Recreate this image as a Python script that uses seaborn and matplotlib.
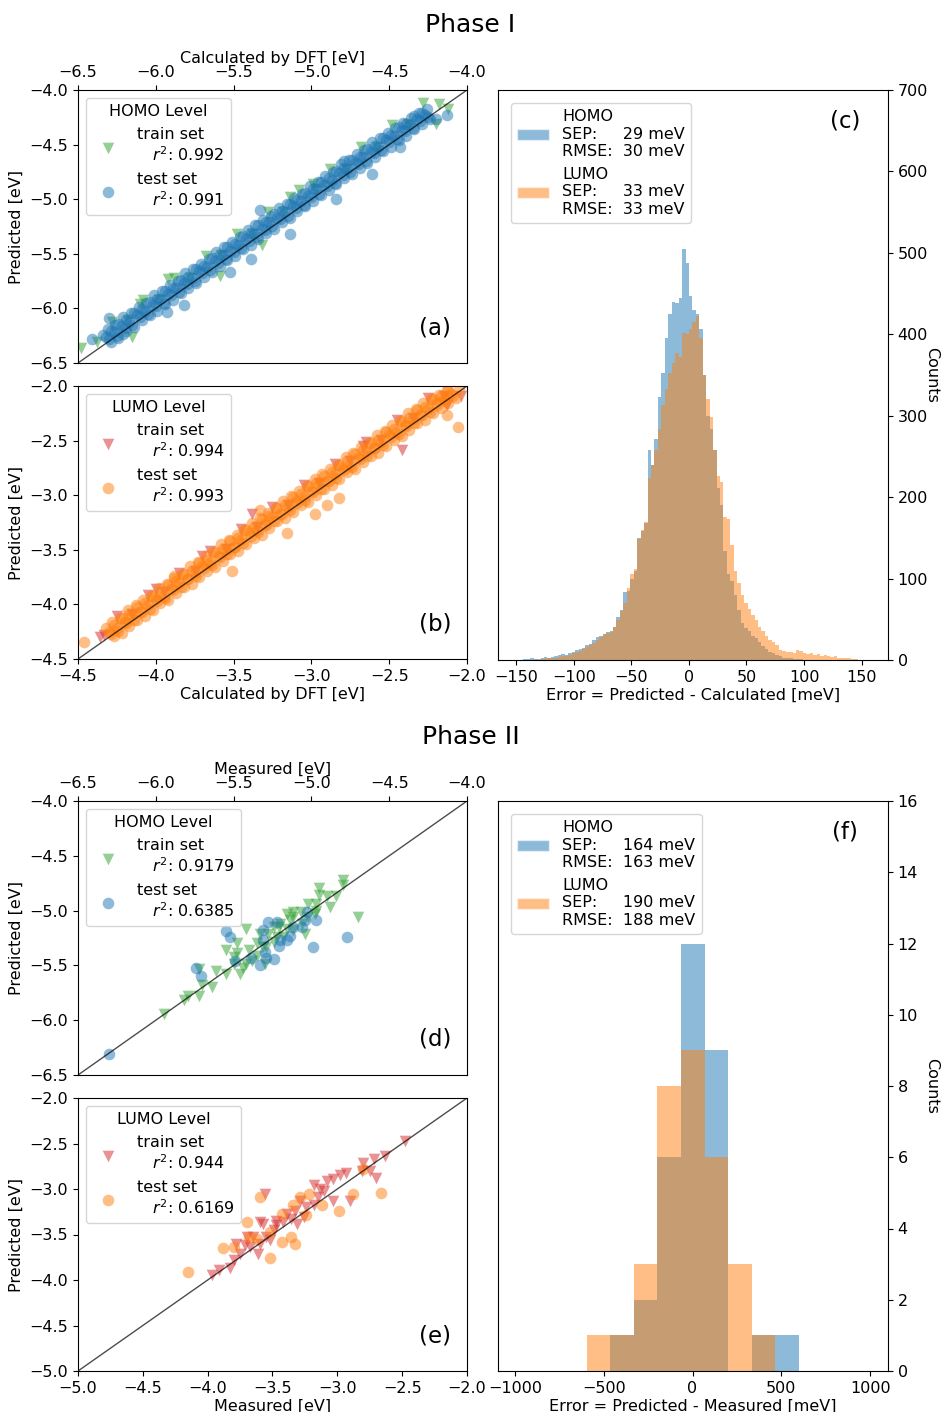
import numpy as np
import pandas as pd
import matplotlib
matplotlib.use("Agg")
import matplotlib.pyplot as plt
import seaborn as sns
from matplotlib.patches import Patch

# ---------------- Phase I: predicted vs DFT (eV) ----------------
homo1_train = [(-6.48, -6.36), (-6.28, -6.12), (-6.08, -5.92), (-5.88, -5.72), (-5.68, -5.52),
               (-5.48, -5.32), (-5.28, -5.12), (-5.08, -4.92), (-4.88, -4.72), (-4.68, -4.52),
               (-4.48, -4.32), (-4.28, -4.12), (-6.38, -6.31), (-6.18, -6.11), (-5.98, -5.92),
               (-5.78, -5.72), (-5.58, -5.51), (-5.38, -5.32), (-5.18, -5.12), (-4.98, -4.91),
               (-4.78, -4.72), (-4.58, -4.52), (-4.38, -4.31), (-4.18, -4.13), (-4.12, -4.17),
               (-5.92, -5.73), (-5.59, -5.70), (-5.14, -4.98), (-4.99, -4.86), (-6.10, -5.96),
               (-4.20, -4.31), (-6.15, -6.26), (-5.32, -5.42)]
homo1_test = [(-6.32, -6.26), (-6.27, -6.22), (-6.22, -6.16), (-6.17, -6.12), (-6.12, -6.06), (-6.07, -6.02),
              (-6.02, -5.97), (-5.97, -5.91), (-5.92, -5.87), (-5.87, -5.81), (-5.82, -5.77), (-5.77, -5.72),
              (-5.72, -5.66), (-5.67, -5.62), (-5.62, -5.57), (-5.57, -5.51), (-5.52, -5.47), (-5.47, -5.42),
              (-5.42, -5.36), (-5.37, -5.32), (-5.32, -5.27), (-5.27, -5.21), (-5.22, -5.17), (-5.17, -5.12),
              (-5.12, -5.06), (-5.07, -5.02), (-5.02, -4.97), (-4.97, -4.91), (-4.92, -4.87), (-4.87, -4.82),
              (-4.82, -4.76), (-4.77, -4.72), (-4.72, -4.67), (-4.67, -4.61), (-4.62, -4.57), (-4.57, -4.52),
              (-4.52, -4.46), (-4.47, -4.42), (-4.42, -4.37), (-4.37, -4.32), (-4.32, -4.27), (-4.27, -4.23),
              (-6.29, -6.31), (-6.24, -6.27), (-6.19, -6.21), (-6.14, -6.17), (-6.09, -6.11), (-6.04, -6.06),
              (-5.99, -6.02), (-5.94, -5.96), (-5.89, -5.92), (-5.84, -5.86), (-5.79, -5.81), (-5.74, -5.77),
              (-5.69, -5.71), (-5.64, -5.67), (-5.59, -5.61), (-5.54, -5.56), (-5.49, -5.52), (-5.44, -5.46),
              (-5.39, -5.42), (-5.34, -5.36), (-5.29, -5.31), (-5.24, -5.27), (-5.19, -5.21), (-5.14, -5.17),
              (-5.09, -5.11), (-5.04, -5.06), (-4.99, -5.02), (-4.94, -4.96), (-4.89, -4.92), (-4.84, -4.86),
              (-4.79, -4.81), (-4.74, -4.77), (-4.69, -4.71), (-4.64, -4.67), (-4.59, -4.61), (-4.54, -4.56),
              (-4.49, -4.52), (-4.44, -4.46), (-4.39, -4.42), (-4.34, -4.36), (-4.29, -4.31), (-4.24, -4.27),
              (-6.31, -6.19), (-6.26, -6.15), (-6.21, -6.08), (-6.16, -6.04), (-6.11, -5.99), (-6.06, -5.95),
              (-6.01, -5.88), (-5.96, -5.84), (-5.91, -5.79), (-5.86, -5.75), (-5.81, -5.68), (-5.76, -5.64),
              (-5.71, -5.59), (-5.66, -5.55), (-5.61, -5.48), (-5.56, -5.44), (-5.51, -5.39), (-5.46, -5.35),
              (-5.41, -5.28), (-5.36, -5.24), (-5.31, -5.19), (-5.26, -5.15), (-5.21, -5.08), (-5.16, -5.04),
              (-5.11, -4.99), (-5.06, -4.95), (-5.01, -4.88), (-4.96, -4.84), (-4.91, -4.79), (-4.86, -4.75),
              (-4.81, -4.68), (-4.76, -4.64), (-4.71, -4.59), (-4.66, -4.55), (-4.61, -4.48), (-4.56, -4.44),
              (-4.51, -4.39), (-4.46, -4.35), (-4.41, -4.30), (-4.36, -4.26), (-4.31, -4.21), (-4.26, -4.17),
              (-6.34, -6.24), (-6.29, -6.21), (-6.24, -6.14), (-6.19, -6.11), (-6.14, -6.04), (-6.09, -6.01),
              (-6.04, -5.94), (-5.99, -5.91), (-5.94, -5.84), (-5.89, -5.81), (-5.84, -5.74), (-5.79, -5.71),
              (-5.74, -5.64), (-5.69, -5.61), (-5.64, -5.54), (-5.59, -5.51), (-5.54, -5.44), (-5.49, -5.41),
              (-5.44, -5.34), (-5.39, -5.31), (-5.34, -5.24), (-5.29, -5.21), (-5.24, -5.14), (-5.19, -5.11),
              (-5.14, -5.04), (-5.09, -5.01), (-5.04, -4.94), (-4.99, -4.91), (-4.94, -4.84), (-4.89, -4.81),
              (-4.84, -4.74), (-4.79, -4.71), (-4.74, -4.64), (-4.69, -4.61), (-4.64, -4.54), (-4.59, -4.51),
              (-4.54, -4.44), (-4.49, -4.41), (-4.44, -4.34), (-4.39, -4.31), (-4.34, -4.24), (-4.29, -4.21),
              (-6.30, -6.28), (-6.25, -6.25), (-6.20, -6.18), (-6.15, -6.15), (-6.10, -6.08), (-6.05, -6.05),
              (-6.00, -5.98), (-5.95, -5.95), (-5.90, -5.88), (-5.85, -5.85), (-5.80, -5.78), (-5.75, -5.75),
              (-5.70, -5.68), (-5.65, -5.65), (-5.60, -5.58), (-5.55, -5.55), (-5.50, -5.48), (-5.45, -5.45),
              (-5.40, -5.38), (-5.35, -5.35), (-5.30, -5.28), (-5.25, -5.25), (-5.20, -5.18), (-5.15, -5.15),
              (-5.10, -5.08), (-5.05, -5.05), (-5.00, -4.98), (-4.95, -4.95), (-4.90, -4.88), (-4.85, -4.85),
              (-4.80, -4.78), (-4.75, -4.75), (-4.70, -4.68), (-4.65, -4.65), (-4.60, -4.58), (-4.55, -4.55),
              (-4.50, -4.48), (-4.45, -4.45), (-4.40, -4.38), (-4.35, -4.35), (-4.30, -4.28), (-4.25, -4.25),
              (-4.13, -4.23), (-4.20, -4.27), (-4.79, -4.65), (-4.61, -4.77), (-4.84, -5.00), (-5.33, -5.10),
              (-5.14, -5.32), (-5.39, -5.55), (-5.52, -5.67), (-5.82, -5.97), (-5.93, -6.03), (-6.30, -6.09),
              (-6.41, -6.28), (-6.21, -6.23), (-4.43, -4.52)]
lumo1_train = [(-4.36, -4.30), (-4.25, -4.11), (-4.15, -4.09), (-4.05, -3.91), (-3.95, -3.89),
               (-3.85, -3.71), (-3.75, -3.69), (-3.65, -3.51), (-3.55, -3.49), (-3.45, -3.31),
               (-3.35, -3.29), (-3.25, -3.11), (-3.15, -3.09), (-3.05, -2.91), (-2.95, -2.89),
               (-2.85, -2.71), (-2.75, -2.69), (-2.65, -2.51), (-2.55, -2.49), (-2.45, -2.31),
               (-2.35, -2.29), (-2.25, -2.11), (-2.15, -2.09), (-2.04, -2.09), (-3.38, -3.17),
               (-4.00, -3.86), (-3.70, -3.56), (-2.67, -2.55), (-2.42, -2.59), (-2.13, -2.17),
               (-4.33, -4.28)]
lumo1_test = [(-4.30, -4.25), (-4.25, -4.22), (-4.20, -4.16), (-4.15, -4.10), (-4.10, -4.07), (-4.05, -4.01),
              (-4.00, -3.95), (-3.95, -3.92), (-3.90, -3.86), (-3.85, -3.80), (-3.80, -3.77), (-3.75, -3.71),
              (-3.70, -3.65), (-3.65, -3.62), (-3.60, -3.56), (-3.55, -3.50), (-3.50, -3.47), (-3.45, -3.41),
              (-3.40, -3.35), (-3.35, -3.32), (-3.30, -3.26), (-3.25, -3.20), (-3.20, -3.17), (-3.15, -3.11),
              (-3.10, -3.05), (-3.05, -3.02), (-3.00, -2.96), (-2.95, -2.90), (-2.90, -2.87), (-2.85, -2.81),
              (-2.80, -2.75), (-2.75, -2.72), (-2.70, -2.66), (-2.65, -2.60), (-2.60, -2.57), (-2.55, -2.51),
              (-2.50, -2.45), (-2.45, -2.42), (-2.40, -2.36), (-2.35, -2.30), (-2.30, -2.27), (-2.25, -2.21),
              (-2.20, -2.16), (-2.15, -2.12), (-2.10, -2.07), (-2.05, -2.04),
              (-4.27, -4.29), (-4.22, -4.26), (-4.17, -4.20), (-4.12, -4.14), (-4.07, -4.11), (-4.02, -4.05),
              (-3.97, -3.99), (-3.92, -3.96), (-3.87, -3.90), (-3.82, -3.84), (-3.77, -3.81), (-3.72, -3.75),
              (-3.67, -3.69), (-3.62, -3.66), (-3.57, -3.60), (-3.52, -3.54), (-3.47, -3.51), (-3.42, -3.45),
              (-3.37, -3.39), (-3.32, -3.36), (-3.27, -3.30), (-3.22, -3.24), (-3.17, -3.21), (-3.12, -3.15),
              (-3.07, -3.09), (-3.02, -3.06), (-2.97, -3.00), (-2.92, -2.94), (-2.87, -2.91), (-2.82, -2.85),
              (-2.77, -2.79), (-2.72, -2.76), (-2.67, -2.70), (-2.62, -2.64), (-2.57, -2.61), (-2.52, -2.55),
              (-2.47, -2.49), (-2.42, -2.46), (-2.37, -2.40), (-2.32, -2.34), (-2.27, -2.31), (-2.22, -2.25),
              (-2.17, -2.20), (-2.12, -2.16), (-2.07, -2.11),
              (-4.28, -4.16), (-4.23, -4.12), (-4.18, -4.05), (-4.13, -4.01), (-4.08, -3.96), (-4.03, -3.92),
              (-3.98, -3.85), (-3.93, -3.81), (-3.88, -3.76), (-3.83, -3.72), (-3.78, -3.65), (-3.73, -3.61),
              (-3.68, -3.56), (-3.63, -3.52), (-3.58, -3.45), (-3.53, -3.41), (-3.48, -3.36), (-3.43, -3.32),
              (-3.38, -3.25), (-3.33, -3.21), (-3.28, -3.16), (-3.23, -3.12), (-3.18, -3.05), (-3.13, -3.01),
              (-3.08, -2.96), (-3.03, -2.92), (-2.98, -2.85), (-2.93, -2.81), (-2.88, -2.76), (-2.83, -2.72),
              (-2.78, -2.65), (-2.73, -2.61), (-2.68, -2.56), (-2.63, -2.52), (-2.58, -2.45), (-2.53, -2.41),
              (-2.48, -2.36), (-2.43, -2.32), (-2.38, -2.25), (-2.33, -2.21), (-2.28, -2.16), (-2.23, -2.12),
              (-2.18, -2.08), (-2.13, -2.04),
              (-4.32, -4.22), (-4.27, -4.19), (-4.22, -4.12), (-4.17, -4.09), (-4.12, -4.02), (-4.07, -3.99),
              (-4.02, -3.92), (-3.97, -3.89), (-3.92, -3.82), (-3.87, -3.79), (-3.82, -3.72), (-3.77, -3.69),
              (-3.72, -3.62), (-3.67, -3.59), (-3.62, -3.52), (-3.57, -3.49), (-3.52, -3.42), (-3.47, -3.39),
              (-3.42, -3.32), (-3.37, -3.29), (-3.32, -3.22), (-3.27, -3.19), (-3.22, -3.12), (-3.17, -3.09),
              (-3.12, -3.02), (-3.07, -2.99), (-3.02, -2.92), (-2.97, -2.89), (-2.92, -2.82), (-2.87, -2.79),
              (-2.82, -2.72), (-2.77, -2.69), (-2.72, -2.62), (-2.67, -2.59), (-2.62, -2.52), (-2.57, -2.49),
              (-2.52, -2.42), (-2.47, -2.39), (-2.42, -2.32), (-2.37, -2.29), (-2.32, -2.22), (-2.27, -2.19),
              (-2.22, -2.12), (-2.17, -2.09), (-2.12, -2.04),
              (-4.29, -4.27), (-4.24, -4.24), (-4.19, -4.17), (-4.14, -4.14), (-4.09, -4.07), (-4.04, -4.04),
              (-3.99, -3.97), (-3.94, -3.94), (-3.89, -3.87), (-3.84, -3.84), (-3.79, -3.77), (-3.74, -3.74),
              (-3.69, -3.67), (-3.64, -3.64), (-3.59, -3.57), (-3.54, -3.54), (-3.49, -3.47), (-3.44, -3.44),
              (-3.39, -3.37), (-3.34, -3.34), (-3.29, -3.27), (-3.24, -3.24), (-3.19, -3.17), (-3.14, -3.14),
              (-3.09, -3.07), (-3.04, -3.04), (-2.99, -2.97), (-2.94, -2.94), (-2.89, -2.87), (-2.84, -2.84),
              (-2.79, -2.77), (-2.74, -2.74), (-2.69, -2.67), (-2.64, -2.64), (-2.59, -2.57), (-2.54, -2.54),
              (-2.49, -2.47), (-2.44, -2.44), (-2.39, -2.37), (-2.34, -2.34), (-2.29, -2.27), (-2.24, -2.24),
              (-2.19, -2.17), (-2.14, -2.14), (-2.09, -2.09),
              (-4.46, -4.34), (-2.06, -2.38), (-2.82, -3.03), (-2.90, -3.09), (-2.98, -3.17), (-3.16, -3.35),
              (-3.51, -3.69), (-3.88, -3.74), (-3.33, -3.14), (-2.13, -2.27)]

# Phase I error histograms: 3 meV bins from -150 to 150 meV
err1_bins = list(range(-150, 153, 3))
homo1_counts = [0, 0, 1, 1, 2, 1, 1, 2, 4, 3, 4, 5, 6, 7, 6, 8, 10, 12,
                13, 15, 18, 20, 24, 28, 30, 32, 34, 36, 40, 53, 62, 83, 85, 100,
                109, 150, 158, 168, 258, 240, 272, 323, 352, 396, 425, 440, 438, 444, 505, 488,
                447, 430, 425, 406, 350, 300, 284, 258, 211, 190, 134, 105, 97, 80, 61, 46,
                39, 35, 30, 27, 22, 17, 14, 10, 8, 6, 5, 3, 2, 2, 1, 1,
                1, 0, 0, 0, 0, 0, 0, 0, 0, 0, 0, 0, 0, 0, 0, 0, 0, 0]
lumo1_counts = [0, 0, 0, 0, 0, 1, 0, 1, 1, 2, 2, 3, 4, 5, 5, 6, 8, 10,
                11, 13, 16, 18, 21, 24, 28, 32, 33, 34, 40, 49, 60, 70, 88, 105,
                112, 148, 160, 170, 224, 240, 258, 284, 313, 333, 352, 365, 377, 372, 401, 400,
                406, 415, 423, 396, 350, 321, 299, 258, 226, 219, 175, 173, 141, 109, 95, 80,
                70, 63, 55, 49, 41, 35, 29, 25, 22, 18, 12, 11, 10, 10, 9, 12,
                11, 8, 7, 8, 6, 7, 5, 6, 5, 4, 5, 3, 3, 2, 2, 1, 1, 0]

# ---------------- Phase II: predicted vs measured (eV) ----------------
homo2_train = [(-4.80, -4.72), (-4.80, -4.77), (-4.84, -4.87), (-4.90, -4.87), (-4.95, -4.79),
               (-4.95, -4.86), (-4.70, -5.06), (-4.97, -5.00), (-5.02, -4.94), (-5.07, -5.01),
               (-5.12, -5.06), (-5.16, -5.03), (-5.20, -5.12), (-5.24, -5.15), (-5.28, -5.21),
               (-5.35, -5.30), (-5.42, -5.17), (-5.48, -5.30), (-5.55, -5.36), (-5.48, -5.39),
               (-5.50, -5.49), (-5.61, -5.55), (-5.55, -5.58), (-5.46, -5.58), (-5.72, -5.53),
               (-5.70, -5.68), (-5.64, -5.70), (-5.72, -5.78), (-5.79, -5.78), (-5.82, -5.82),
               (-5.95, -5.94), (-5.35, -5.41), (-5.31, -5.33), (-5.22, -5.24), (-5.12, -5.18),
               (-5.04, -5.21), (-5.14, -5.09), (-5.06, -5.12), (-4.98, -5.03), (-5.30, -5.49),
               (-5.42, -5.49), (-5.38, -5.46), (-5.16, -5.17), (-5.24, -5.29), (-5.18, -5.24),
               (-4.97, -4.94), (-4.88, -4.97), (-5.50, -5.42), (-5.40, -5.36), (-5.33, -5.21),
               (-5.02, -5.06), (-5.12, -5.01), (-5.21, -5.15), (-5.29, -5.33), (-5.44, -5.52)]
homo2_test = [(-5.55, -5.19), (-5.52, -5.24), (-5.31, -5.18), (-5.28, -5.10), (-5.22, -5.10),
              (-5.20, -5.27), (-5.21, -5.32), (-5.31, -5.27), (-5.30, -5.38), (-5.29, -5.43),
              (-5.33, -5.50), (-5.49, -5.46), (-5.74, -5.52), (-5.71, -5.60), (-5.06, -5.15),
              (-5.04, -5.09), (-4.97, -5.09), (-4.99, -5.33), (-4.77, -5.24), (-5.14, -5.23),
              (-5.16, -5.27), (-6.30, -6.31), (-5.39, -5.43), (-5.24, -5.44), (-5.03, -5.01),
              (-5.12, -5.15)]
lumo2_train = [(-2.48, -2.47), (-2.63, -2.64), (-2.72, -2.67), (-2.80, -2.71), (-2.81, -2.80),
               (-2.70, -2.88), (-2.75, -2.80), (-2.90, -3.13), (-2.98, -2.85), (-3.03, -2.89),
               (-3.08, -2.91), (-3.13, -3.00), (-3.18, -2.96), (-3.03, -3.13), (-3.15, -3.09),
               (-3.29, -3.13), (-3.24, -3.20), (-3.33, -3.24), (-3.36, -3.33), (-3.42, -3.36),
               (-3.47, -3.40), (-3.49, -3.45), (-3.56, -3.05), (-3.57, -3.38), (-3.60, -3.36),
               (-3.52, -3.56), (-3.60, -3.60), (-3.65, -3.53), (-3.71, -3.62), (-3.75, -3.71),
               (-3.61, -3.71), (-3.80, -3.78), (-3.83, -3.87), (-3.91, -3.89), (-3.97, -3.95),
               (-3.55, -3.53), (-3.70, -3.53), (-3.31, -3.38), (-3.26, -3.31), (-3.10, -3.02),
               (-2.93, -2.82), (-3.18, -3.18), (-3.39, -3.27), (-3.47, -3.35), (-3.78, -3.60),
               (-3.67, -3.64)]
lumo2_test = [(-2.66, -3.04), (-2.88, -3.05), (-2.99, -3.24), (-3.12, -3.18), (-3.24, -3.29),
              (-3.29, -3.09), (-3.22, -3.05), (-3.60, -3.09), (-3.70, -3.36), (-3.43, -3.27),
              (-3.36, -3.53), (-3.43, -3.58), (-3.33, -3.60), (-3.52, -3.47), (-3.62, -3.55),
              (-3.68, -3.53), (-3.80, -3.64), (-3.88, -3.65), (-3.52, -3.76), (-4.15, -3.91),
              (-2.80, -2.78), (-3.34, -3.18)]

# Phase II error histograms (meV)
err2_bins = [-597, -464, -331, -198, -65, 68, 201, 334, 467, 600]
homo2_counts = [0, 1, 2, 6, 12, 9, 0, 1, 1]
lumo2_counts = [1, 1, 3, 8, 9, 6, 3, 1, 0]

FS = 11.5
MS = 70
sns.set_style("ticks", {"axes.edgecolor": "black", "xtick.color": "black",
                        "ytick.color": "black", "text.color": "black",
                        "axes.labelcolor": "black"})
plt.rcParams['font.family'] = ['DejaVu Sans']
plt.rcParams['font.size'] = FS


def scatter_panel(ax, train, test, c_train, c_test, lims, title, r2s, tag, xlabel, top):
    tr = pd.DataFrame(train, columns=["x", "y"])
    te = pd.DataFrame(test, columns=["x", "y"])
    sns.scatterplot(data=tr, x="x", y="y", marker="v", color=c_train, alpha=0.5, s=MS,
                    linewidth=0, ax=ax, label=f"train set\n   $r^2$: {r2s[0]}")
    sns.scatterplot(data=te, x="x", y="y", marker="o", color=c_test, alpha=0.5, s=MS,
                    linewidth=0, ax=ax, label=f"test set\n   $r^2$: {r2s[1]}")
    ax.axline((lims[0], lims[0]), slope=1, color="black", lw=1, alpha=0.7)
    ax.set_xlim(lims)
    ax.set_ylim(lims)
    ticks = np.arange(lims[0], lims[1] + 0.01, 0.5)
    ax.set_xticks(ticks)
    ax.set_yticks(ticks)
    ax.tick_params(labelsize=FS)
    ax.set_xlabel(xlabel, fontsize=FS, labelpad=2)
    ax.set_ylabel("Predicted [eV]", fontsize=FS)
    if top:
        ax.xaxis.tick_top()
        ax.xaxis.set_label_position("top")
    ax.legend(title=title, loc="upper left", fontsize=FS, title_fontsize=FS)
    ax.text(0.918, 0.13, tag, transform=ax.transAxes, fontsize=16.5, ha="center", va="center")


def hist_panel(ax, bins, homo, lumo, labels, ylim, yticks, xticks, xlim, xlabel, tag):
    edges = [float(b) for b in bins]
    df = pd.DataFrame({
        "err": [(a + b) / 2 for a, b in zip(edges[:-1], edges[1:])],
        "homo": homo,
        "lumo": lumo,
    })
    sns.histplot(data=df, x="err", weights="homo", bins=edges, color="tab:blue", alpha=0.5,
                 linewidth=0, ax=ax)
    sns.histplot(data=df, x="err", weights="lumo", bins=edges, color="tab:orange", alpha=0.5,
                 linewidth=0, ax=ax)
    ax.set_xlim(xlim)
    ax.set_ylim(ylim)
    ax.set_xticks(list(xticks))
    ax.set_yticks(list(yticks))
    ax.tick_params(labelsize=FS)
    ax.yaxis.tick_right()
    ax.yaxis.set_label_position("right")
    ax.set_ylabel("Counts", rotation=270, fontsize=FS, va="center")
    ax.yaxis.set_label_coords(1.113, 0.5)
    ax.set_xlabel(xlabel, fontsize=FS, labelpad=2)
    handles = [Patch(facecolor="tab:blue", alpha=0.5), Patch(facecolor="tab:orange", alpha=0.5)]
    ax.legend(handles, labels, loc="upper left", fontsize=FS, borderaxespad=0.8)
    ax.text(0.89, 0.945, tag, transform=ax.transAxes, fontsize=16.5, ha="center", va="center")


W, H = 941, 1412
fig = plt.figure(figsize=(W / 100, H / 100), dpi=100)


def add_ax(x0, y0, x1, y1):
    return fig.add_axes([x0 / W, 1 - y1 / H, (x1 - x0) / W, (y1 - y0) / H])


ax_a = add_ax(78, 90, 467, 363)
ax_b = add_ax(78, 386, 467, 659)
ax_c = add_ax(498, 90, 888, 660)
ax_d = add_ax(78, 801, 467, 1075)
ax_e = add_ax(78, 1098, 467, 1371)
ax_f = add_ax(498, 801, 888, 1371)

scatter_panel(ax_a, homo1_train, homo1_test, "tab:green", "tab:blue", (-6.5, -4.0),
              "HOMO Level", ("0.992", "0.991"), "(a)", "Calculated by DFT [eV]", True)
scatter_panel(ax_b, lumo1_train, lumo1_test, "tab:red", "tab:orange", (-4.5, -2.0),
              "LUMO Level", ("0.994", "0.993"), "(b)", "Calculated by DFT [eV]", False)
scatter_panel(ax_d, homo2_train, homo2_test, "tab:green", "tab:blue", (-6.5, -4.0),
              "HOMO Level", ("0.9179", "0.6385"), "(d)", "Measured [eV]", True)
scatter_panel(ax_e, lumo2_train, lumo2_test, "tab:red", "tab:orange", (-5.0, -2.0),
              "LUMO Level", ("0.944", "0.6169"), "(e)", "Measured [eV]", False)

hist_panel(ax_c, err1_bins, homo1_counts, lumo1_counts,
           ["HOMO\nSEP:     29 meV\nRMSE:  30 meV", "LUMO\nSEP:     33 meV\nRMSE:  33 meV"],
           (0, 700), range(0, 701, 100), range(-150, 151, 50), (-166, 173),
           "Error = Predicted - Calculated [meV]", "(c)")
hist_panel(ax_f, err2_bins, homo2_counts, lumo2_counts,
           ["HOMO\nSEP:     164 meV\nRMSE:  163 meV", "LUMO\nSEP:     190 meV\nRMSE:  188 meV"],
           (0, 16), range(0, 17, 2), range(-1000, 1001, 500), (-1096, 1101),
           "Error = Predicted - Measured [meV]", "(f)")

fig.text(0.5, 1 - 25 / H, "Phase I", fontsize=18, ha="center", va="center")
fig.text(0.5, 1 - 737 / H, "Phase II", fontsize=18, ha="center", va="center")

fig.savefig("out.png", dpi=100)
